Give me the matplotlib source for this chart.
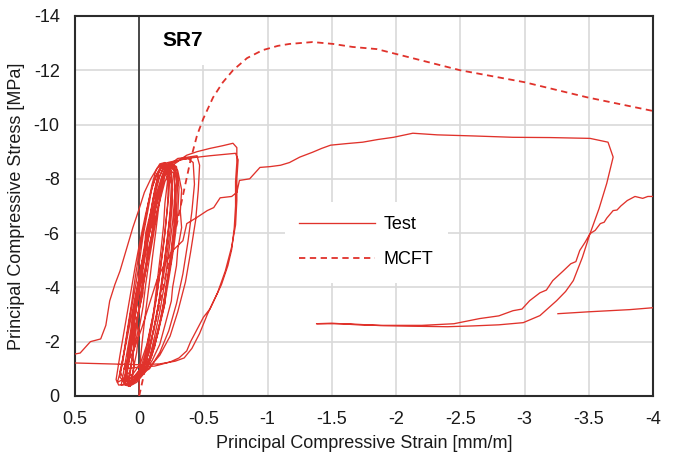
import numpy as np
import matplotlib.pyplot as plt
from matplotlib.patches import Rectangle

plt.rcParams['font.family'] = ['Liberation Sans', 'DejaVu Sans']
plt.rcParams['axes.unicode_minus'] = False

# axis ticks
x_ticks = [0.5, 0, -0.5, -1, -1.5, -2, -2.5, -3, -3.5, -4]
x_labels = ['0.5', '0', '-0.5', '-1', '-1.5', '-2', '-2.5', '-3', '-3.5', '-4']
y_ticks = [0, -2, -4, -6, -8, -10, -12, -14]
y_labels = ['0', '-2', '-4', '-6', '-8', '-10', '-12', '-14']

# MCFT prediction (strain, stress)
mcft_strain = [0.0, -0.1, -0.2, -0.3, -0.4, -0.45, -0.5, -0.575, -0.65, -0.73, -0.84,
               -0.96, -1.08, -1.17, -1.35, -1.51, -1.66, -1.85, -2.0, -2.5, -3.0, -3.49, -4.0]
mcft_stress = [0.0, -2.15, -4.3, -6.5, -8.7, -9.6, -10.23, -11.0, -11.55, -12.0, -12.45,
               -12.74, -12.9, -12.97, -13.04, -12.97, -12.86, -12.78, -12.6, -12.0, -11.56, -11.0, -10.5]

# test curve: small cycles near the origin
cycles_small = [
    (0.00, 0.00), (0.00, -0.6), (-0.01, -1.4), (-0.03, -2.3), (-0.05, -3.1), (-0.08, -4.2),
    (-0.10, -5.0), (-0.13, -6.1), (-0.15, -6.9), (-0.18, -7.8), (-0.20, -8.3), (-0.22, -8.4),
    (-0.24, -8.2), (-0.23, -7.4), (-0.21, -6.5), (-0.19, -5.6), (-0.16, -4.5), (-0.13, -3.5),
    (-0.10, -2.6), (-0.07, -1.8), (-0.03, -1.1), (0.02, -0.7), (0.07, -0.5),
    (0.10, -0.6), (0.08, -1.3), (0.05, -2.2), (0.03, -3.0), (0.00, -3.9), (-0.03, -4.8),
    (-0.06, -5.8), (-0.09, -6.7), (-0.12, -7.5), (-0.15, -8.2), (-0.18, -8.5), (-0.21, -8.5),
    (-0.25, -8.3), (-0.26, -7.6), (-0.24, -6.6), (-0.21, -5.5), (-0.18, -4.4), (-0.15, -3.4),
    (-0.11, -2.4), (-0.07, -1.5), (-0.02, -0.9), (0.04, -0.6), (0.12, -0.5),
    (0.15, -0.7), (0.12, -1.6), (0.09, -2.5), (0.06, -3.4), (0.03, -4.4), (0.00, -5.3),
    (-0.04, -6.3), (-0.07, -7.1), (-0.10, -7.8), (-0.13, -8.3), (-0.16, -8.55),
    (-0.20, -8.6), (-0.23, -8.1), (-0.22, -7.0), (-0.20, -6.0), (-0.17, -4.9), (-0.14, -3.8),
    (-0.10, -2.8), (-0.06, -1.9), (-0.01, -1.2), (0.05, -0.8), (0.13, -0.6),
    (0.17, -0.5), (0.13, -1.2), (0.10, -2.1), (0.07, -3.0), (0.03, -4.0), (0.00, -4.9),
    (-0.03, -5.9), (-0.07, -6.9), (-0.10, -7.7), (-0.14, -8.2), (-0.18, -8.45),
    (-0.22, -8.4), (-0.25, -7.8), (-0.24, -6.8), (-0.22, -5.8), (-0.19, -4.7), (-0.16, -3.6),
    (-0.12, -2.6), (-0.08, -1.7), (-0.03, -1.0), (0.03, -0.6), (0.10, -0.45),
    (0.12, -0.5), (0.09, -1.4), (0.06, -2.4), (0.02, -3.5), (-0.01, -4.5), (-0.05, -5.6),
    (-0.09, -6.6), (-0.12, -7.4), (-0.16, -8.1), (-0.19, -8.4), (-0.23, -8.5),
    (-0.27, -8.3), (-0.28, -7.5), (-0.26, -6.4), (-0.23, -5.3), (-0.20, -4.2), (-0.16, -3.1),
    (-0.12, -2.2), (-0.08, -1.4), (-0.02, -0.8), (0.05, -0.5),
    (0.08, -0.55), (0.05, -1.5), (0.02, -2.6), (-0.02, -3.7), (-0.06, -4.9), (-0.10, -6.0),
    (-0.13, -6.9), (-0.17, -7.7), (-0.20, -8.2), (-0.24, -8.45), (-0.28, -8.35),
    (-0.30, -7.9), (-0.29, -6.9), (-0.27, -5.9), (-0.24, -4.8), (-0.20, -3.7), (-0.16, -2.7),
    (-0.11, -1.8), (-0.06, -1.1), (0.00, -0.7), (0.08, -0.45),
    (0.14, -0.4), (0.11, -1.2), (0.07, -2.3), (0.04, -3.3), (0.00, -4.4), (-0.04, -5.5),
    (-0.08, -6.5), (-0.11, -7.3), (-0.15, -8.0), (-0.19, -8.45), (-0.24, -8.6),
    (-0.29, -8.45), (-0.31, -7.7), (-0.30, -6.7), (-0.27, -5.5), (-0.23, -4.3), (-0.19, -3.2),
    (-0.14, -2.2), (-0.09, -1.4), (-0.03, -0.8), (0.05, -0.45), (0.16, -0.4),
    (0.18, -0.6), (0.15, -1.5), (0.11, -2.6), (0.07, -3.7), (0.03, -4.8), (-0.01, -5.8),
    (-0.05, -6.7), (-0.09, -7.5), (-0.13, -8.1), (-0.17, -8.5),
    (-0.21, -8.55), (-0.25, -8.2), (-0.26, -7.2), (-0.24, -6.1), (-0.21, -5.0), (-0.17, -3.9),
    (-0.13, -2.8), (-0.08, -1.8), (-0.03, -1.1), (0.04, -0.7), (0.12, -0.55),
    (0.06, -0.5), (0.04, -1.1), (0.05, -1.5), (0.01, -2.4), (0.02, -2.8), (-0.03, -3.8),
    (-0.02, -4.2), (-0.07, -5.2), (-0.06, -5.6), (-0.11, -6.6), (-0.13, -7.4), (-0.17, -8.0),
    (-0.20, -8.4), (-0.26, -8.55),
    (-0.30, -8.3), (-0.33, -7.6), (-0.32, -6.8), (-0.33, -6.2), (-0.30, -5.4), (-0.29, -4.8),
    (-0.26, -4.0), (-0.25, -3.5), (-0.20, -2.6), (-0.16, -1.9), (-0.10, -1.3), (-0.04, -0.9),
    (0.04, -0.6),
    (0.09, -0.45), (0.07, -1.0), (0.04, -1.9), (0.04, -2.3), (0.00, -3.2), (-0.01, -3.8),
    (-0.05, -4.6), (-0.06, -5.2), (-0.10, -6.0), (-0.11, -6.6), (-0.15, -7.4), (-0.18, -8.1),
    (-0.22, -8.5),
    (-0.27, -8.45), (-0.29, -7.9), (-0.28, -7.1), (-0.29, -6.5), (-0.26, -5.7), (-0.25, -5.0),
    (-0.21, -4.0), (-0.20, -3.4), (-0.15, -2.5), (-0.12, -1.8), (-0.06, -1.1), (0.01, -0.6),
    (0.09, -0.4),
    (0.12, -0.45), (0.10, -1.0), (0.08, -1.8), (0.06, -2.2), (0.05, -2.9), (0.01, -3.9),
    (0.00, -4.5), (-0.04, -5.3), (-0.05, -6.0), (-0.09, -6.8), (-0.12, -7.6), (-0.15, -8.2),
    (-0.17, -8.4),
    (-0.21, -8.45), (-0.22, -7.9), (-0.20, -7.1), (-0.19, -6.3), (-0.17, -5.4), (-0.15, -4.6),
    (-0.13, -3.8), (-0.11, -3.0), (-0.08, -2.3), (-0.05, -1.6), (-0.01, -1.0), (0.06, -0.6),
    (0.11, -0.4),
    (0.07, -0.35), (0.05, -0.9), (0.02, -1.6), (0.00, -2.5), (-0.03, -3.3), (-0.05, -4.1),
    (-0.08, -5.1), (-0.11, -5.9), (-0.14, -6.8), (-0.17, -7.5), (-0.20, -8.1), (-0.23, -8.35),
    (-0.27, -8.2), (-0.28, -7.3), (-0.27, -6.3), (-0.25, -5.4), (-0.22, -4.4), (-0.19, -3.4),
    (-0.15, -2.4), (-0.10, -1.5), (-0.05, -0.9), (0.02, -0.5), (0.08, -0.35),
]

# test curve: medium cycles
cycles_medium = [
    (0.10, -0.8), (0.05, -2.0), (0.00, -3.3), (-0.05, -4.6), (-0.10, -5.9), (-0.15, -7.0),
    (-0.20, -7.9), (-0.26, -8.5), (-0.32, -8.7), (-0.38, -8.75),
    (-0.42, -8.6), (-0.43, -7.8), (-0.41, -6.8), (-0.38, -5.7), (-0.34, -4.5), (-0.29, -3.4),
    (-0.23, -2.4), (-0.16, -1.6), (-0.08, -1.0), (0.02, -0.7), (0.12, -0.6),
    (0.15, -0.9), (0.10, -2.0), (0.05, -3.2), (-0.01, -4.6), (-0.06, -5.8), (-0.11, -6.9),
    (-0.17, -7.9), (-0.23, -8.5), (-0.30, -8.75), (-0.38, -8.8), (-0.45, -8.85),
    (-0.47, -8.5), (-0.46, -7.6), (-0.44, -6.5), (-0.40, -5.3), (-0.36, -4.2), (-0.30, -3.1),
    (-0.24, -2.2), (-0.16, -1.5), (-0.07, -1.0), (0.05, -0.7), (0.10, -0.9),
]

# test curve: large cycles and envelope
cycles_large = [
    (0.06, -2.0), (0.02, -3.3), (-0.03, -4.7), (-0.08, -6.0), (-0.13, -7.1), (-0.18, -8.0),
    (-0.24, -8.55), (-0.30, -8.65), (-0.37, -8.87), (-0.45, -9.0), (-0.55, -9.12),
    (-0.65, -9.22), (-0.73, -9.31), (-0.76, -9.15), (-0.76, -8.6),
    (-0.75, -7.9), (-0.75, -7.0), (-0.74, -6.2), (-0.72, -5.4), (-0.69, -4.8), (-0.64, -4.1),
    (-0.58, -3.5), (-0.53, -3.0), (-0.47, -2.3), (-0.41, -1.75), (-0.35, -1.4), (-0.28, -1.28),
    (-0.16, -1.18), (0.00, -1.15), (0.23, -1.18), (0.55, -1.22),
    (0.55, -1.50), (0.46, -1.58), (0.38, -2.0), (0.30, -2.1), (0.26, -2.6), (0.23, -3.5),
    (0.19, -4.1), (0.15, -4.6), (0.10, -5.4), (0.05, -6.2), (0.00, -6.9), (-0.04, -7.5),
    (-0.09, -8.0), (-0.14, -8.4), (-0.18, -8.55), (-0.24, -8.62), (-0.32, -8.7),
    (-0.42, -8.78), (-0.55, -8.85), (-0.66, -8.9), (-0.75, -8.94), (-0.77, -8.7),
    (-0.76, -8.0), (-0.76, -7.2), (-0.75, -6.3), (-0.72, -5.5), (-0.67, -4.6), (-0.61, -3.8),
    (-0.55, -3.2), (-0.50, -2.9), (-0.45, -2.45), (-0.40, -2.0), (-0.37, -1.66), (-0.31, -1.4),
    (-0.24, -1.25), (-0.12, -1.1), (0.02, -1.05), (0.12, -1.0),
    (0.05, -1.6), (-0.02, -2.5), (-0.08, -3.4), (-0.14, -4.3), (-0.20, -4.9), (-0.27, -5.4),
    (-0.34, -5.72), (-0.37, -6.35), (-0.45, -6.58), (-0.53, -6.83), (-0.58, -6.94),
    (-0.63, -7.3), (-0.72, -7.35), (-0.76, -7.5), (-0.78, -7.94), (-0.86, -8.0),
    (-0.94, -8.42), (-1.02, -8.45), (-1.10, -8.5), (-1.17, -8.6), (-1.25, -8.8),
    (-1.35, -8.98), (-1.42, -9.12), (-1.49, -9.24), (-1.62, -9.3), (-1.74, -9.35),
    (-1.86, -9.45), (-1.98, -9.53), (-2.13, -9.68), (-2.32, -9.62), (-2.6, -9.58),
    (-2.91, -9.53), (-3.2, -9.52), (-3.51, -9.49), (-3.65, -9.35), (-3.69, -8.8),
    (-3.64, -7.83), (-3.58, -6.9), (-3.51, -5.98), (-3.45, -5.1), (-3.38, -4.25),
    (-3.32, -3.85), (-3.25, -3.51), (-3.12, -2.96), (-2.99, -2.7), (-2.8, -2.62),
    (-2.6, -2.58), (-2.40, -2.55), (-2.1, -2.57), (-1.88, -2.59), (-1.62, -2.66), (-1.38, -2.66),
    (-1.5, -2.68), (-1.7, -2.62), (-1.9, -2.6), (-2.2, -2.6), (-2.45, -2.66), (-2.65, -2.85),
    (-2.8, -2.95), (-2.91, -3.14), (-2.98, -3.2), (-3.04, -3.51), (-3.12, -3.8), (-3.17, -3.9),
    (-3.22, -4.25), (-3.30, -4.6), (-3.36, -4.87), (-3.40, -4.95), (-3.43, -5.36),
    (-3.47, -5.65), (-3.51, -5.98), (-3.55, -6.1), (-3.59, -6.35), (-3.62, -6.4),
    (-3.64, -6.55), (-3.69, -6.83), (-3.72, -6.85), (-3.75, -7.0), (-3.80, -7.2),
    (-3.86, -7.35), (-3.92, -7.28), (-3.96, -7.35), (-4.0, -7.35),
]

# last short test branch on the right
tail_strain = [-3.26, -3.5, -3.82, -4.0]
tail_stress = [-3.03, -3.1, -3.18, -3.25]

test = np.array(cycles_small + cycles_medium + cycles_large)

red = '#E0322B'
fig, ax = plt.subplots(figsize=(6.77, 4.53), dpi=100)
fig.subplots_adjust(left=0.1108, right=0.9645, bottom=0.126, top=0.9647)

ax.plot(test[:, 0], test[:, 1], color=red, lw=0.95, label='Test', zorder=3)
ax.plot(tail_strain, tail_stress, color=red, lw=0.95, zorder=3)
ax.plot(mcft_strain, mcft_stress, color=red, lw=1.3, ls=(0, (3.5, 2.5)), label='MCFT', zorder=3)

ax.axvline(0, color='#202020', lw=1.1, zorder=2)

ax.set_xlim(0.5, -4)
ax.set_ylim(0, -14)
ax.set_xticks(x_ticks)
ax.set_xticklabels(x_labels)
ax.set_yticks(y_ticks)
ax.set_yticklabels(y_labels)
ax.tick_params(length=0, pad=11, labelsize=13, colors='#1a1a1a')
ax.grid(True, color='#d9d9d9', lw=1.2, zorder=0)
ax.set_axisbelow(True)
for sp in ax.spines.values():
    sp.set_color('#2b2b2b')
    sp.set_linewidth(1.5)

ax.set_xlabel('Principal Compressive Strain [mm/m]', fontsize=13, labelpad=5, color='#1a1a1a')
ax.set_ylabel('Principal Compressive Stress [MPa]', fontsize=13, labelpad=6, color='#1a1a1a')

# white box behind the specimen label
ax.add_patch(Rectangle((0.114, 0.871), 0.13, 0.126, transform=ax.transAxes,
                       facecolor='white', edgecolor='none', zorder=1))
ax.text(-0.18, -13.1, 'SR7', fontsize=15, fontweight='bold', ha='left', va='center', zorder=4)

leg = ax.legend(loc='center', bbox_to_anchor=(0.504, 0.405), fontsize=13, frameon=True,
                facecolor='white', edgecolor='none', framealpha=1, handlelength=4.2,
                handletextpad=0.5, labelspacing=1.0, borderpad=0.8)
leg.get_frame().set_boxstyle('square', pad=0)

fig.savefig('out.png', dpi=100)
